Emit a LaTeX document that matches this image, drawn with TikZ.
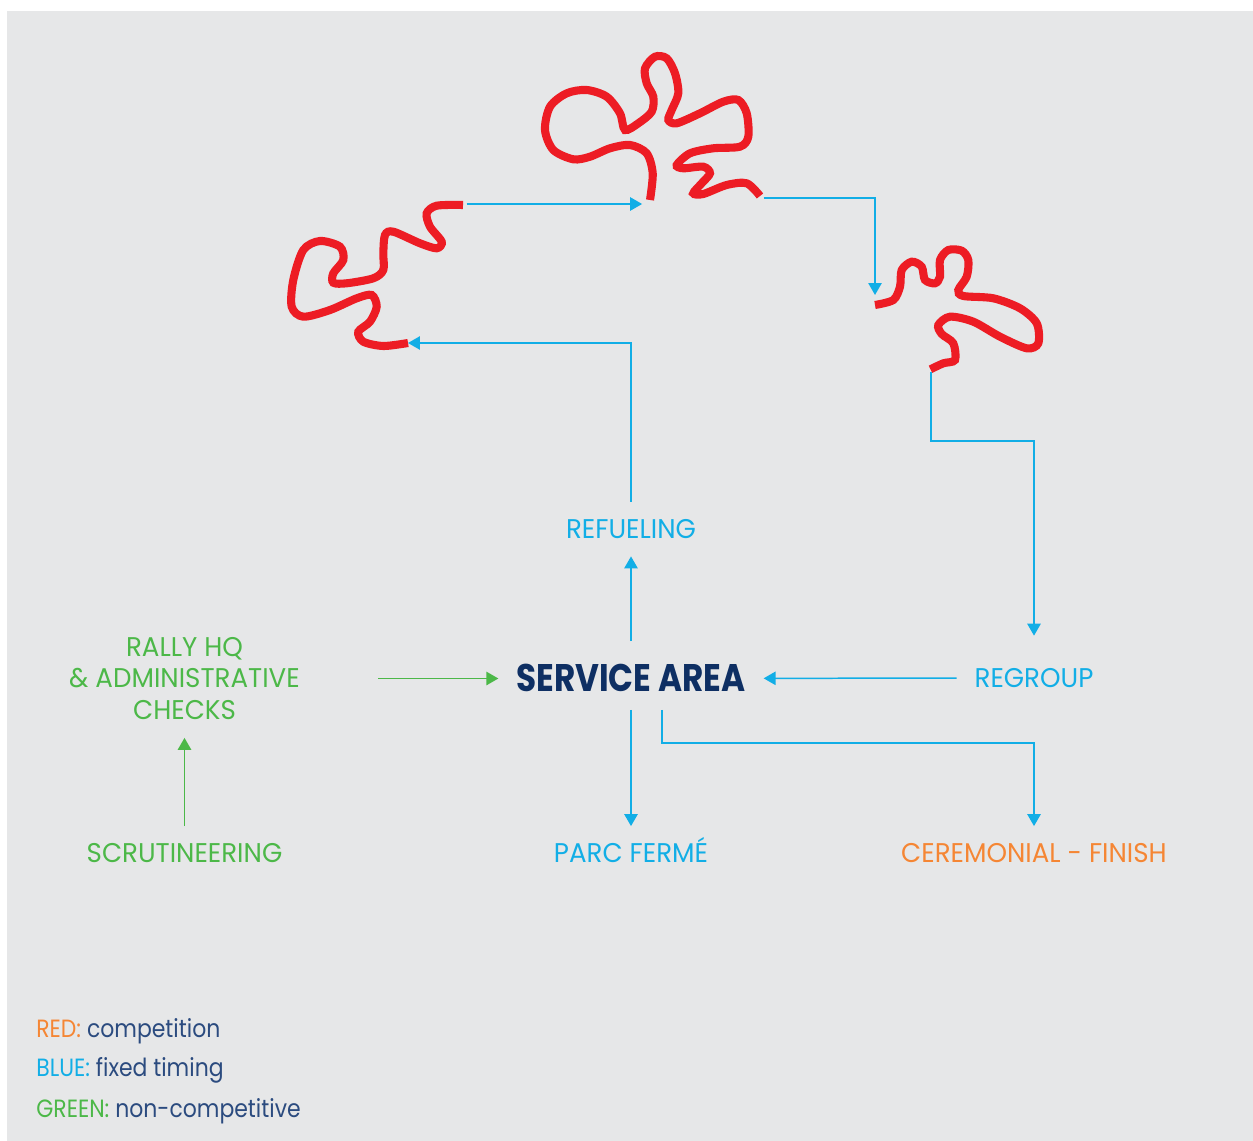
\documentclass[tikz,border=0pt]{standalone}
\usepackage{fontspec}
\setmainfont{Poppins}[FakeStretch=0.965]
\newfontfamily\hubfont{Poppins}[FakeStretch=0.85]
\newfontfamily\leyfont{Poppins}[FakeStretch=0.88]
\usetikzlibrary{arrows.meta, calc}
\definecolor{fondo}{HTML}{E6E7E8}
\definecolor{celeste}{HTML}{12AEE6}
\definecolor{verdoso}{HTML}{4CB848}
\definecolor{naranja}{HTML}{F58634}
\definecolor{rojo}{HTML}{ED1C24}
\definecolor{marino}{HTML}{0E2F63}
\definecolor{leyenda}{HTML}{2B4B7F}
\tikzset{>={Triangle[length=6.8pt,width=7.6pt]}}
\tikzset{
	rotulo/.style={inner sep=10pt, font=\fontsize{15.4}{18.1}\selectfont},
	rotulouno/.style={rotulo, text height=10.8pt, text depth=0pt},
	flujo/.style={celeste, line width=0.85pt, ->},
	flujoverde/.style={verdoso, line width=0.85pt, ->},
	tramo/.style={rojo, line width=4.6pt},
	leyendita/.style={anchor=base west, inner sep=0pt, text=leyenda, font=\leyfont\fontsize{14.2}{16}\selectfont}
}

\begin{document}
\begin{tikzpicture}[x=0.02cm, y=-0.02cm]

			\useasboundingbox (0,0) rectangle (1253,1141);
			\fill[fondo] (7,11) rectangle (1253,1141);

			% tramos de competicion
			\draw[tramo] plot[smooth] coordinates {(463,205) (436.7,205.7) (426.7,213.3) (430,226.7) (441.7,241.7) (436.7,248.3) (420,243.3) (393.3,231.7) (385,235) (383.3,253.3) (383.3,270) (373.3,278.3) (346.7,283.3) (333.3,282.7) (333.3,273.3) (343.3,260) (340,246.7) (320,241) (303.3,250) (293.3,280) (291.7,306.7) (303.3,316.7) (330,310) (356.7,298.3) (371.7,295) (376.7,306.7) (370,321.7) (358.3,331.7) (363.3,341.7) (383.3,346) (408,343)};
			\draw[tramo] plot[smooth] coordinates {(650,200) (652.7,173.3) (646.7,153.3) (630,145) (610,148.3) (590,156.7) (573.3,159.3) (553.3,150) (545,130) (550,106.7) (566.7,93.3) (586.7,90) (606.7,96.7) (620,113.3) (625,130) (638.3,123.3) (651.7,111.7) (653.3,96.7) (646.7,83.3) (645,68.3) (655,56.7) (666.7,58.3) (675,73.3) (678.3,93.3) (671.7,110) (668.3,120) (676.7,123.3) (700,113.3) (723.3,101.7) (738.3,100) (746.7,113.3) (748.3,136.7) (740,146.7) (713.3,148.3) (690,153.3) (676.7,165) (683.3,168.3) (703.3,166.7) (710,173.3) (701.7,183.3) (693.3,193.3) (703.3,194) (726.7,185) (746.7,183.3) (760,196)};
			\draw[tramo] plot[smooth] coordinates {(875,305) (893.3,300) (900,286.7) (901.7,270) (911.7,261.7) (921.7,266.7) (925,280) (935,283.3) (940,276.7) (940,260) (948.3,250) (961.7,250.7) (968.3,260) (966.7,276.7) (958.3,290) (963.3,296) (993.3,298.3) (1020,308.3) (1036.7,323.3) (1038.3,343.3) (1026.7,348.3) (1000,336.7) (973.3,321.7) (950,316.7) (938.3,325) (941.7,334) (953.3,343.3) (955,360) (943.3,363.3) (930.5,369.3)};

			\coordinate (s1a) at (408,343);
			\coordinate (s1b) at (463,204);
			\coordinate (s2a) at (650,200);
			\coordinate (s2b) at (760,198);
			\coordinate (s3a) at (875,305);
			\coordinate (s3b) at (931,369);

			% etiquetas
			\node[rotulouno, text=marino, text height=15.3pt, font=\hubfont\bfseries\fontsize{21.9}{24}\selectfont] (servicio) at (631,678.5) {SERVICE AREA};
			\node[rotulouno, text=celeste] (refuel) at (631,529) {REFUELING};
			\node[rotulouno, text=celeste] (regroup) at (1034,678) {REGROUP};
			\node[rotulouno, text=celeste] (parc) at (631,853.5) {PARC FERMÉ};
			\node[rotulouno, text=naranja] (finish) at (1034,853.5) {CEREMONIAL - FINISH};
			\node[rotulouno, text=verdoso] (scrut) at (184.5,853.5) {SCRUTINEERING};
			\node[rotulo, text=verdoso, align=center] (hq) at (184.5,678.5) {RALLY HQ\\ \& ADMINISTRATIVE\\ CHECKS};

			% conexiones
			\draw[flujo] (refuel) |- (s1a);
			\draw[flujo, shorten <=2pt, shorten >=4.5pt] (s1b) -- (s1b -| s2a);
			\draw[flujo, shorten <=2pt, shorten >=5.7pt] (s2b) -| (s3a);
			\draw[flujo, shorten <=1.5pt, shorten >=8.5pt] (s3b) -- ++(0,72) -| (regroup);
			\draw[flujo] (regroup) -- (servicio);
			\draw[flujo, shorten <=3.4pt] (servicio) -- (refuel);
			\draw[flujo] (servicio) -- (parc);
			\draw[flujo] ([xshift=17.6pt]servicio.south) -- ++(0,33) -| (finish);
			\draw[flujoverde] (scrut) -- (hq);
			\draw[flujoverde, shorten <=34.6pt] (hq) -- (servicio);

			% leyenda
			\node[leyendita] (leyrojo) at (36,1037) {\textcolor{naranja}{RED:} competition};
			\node[leyendita] (leyazul) at (36,1076) {\textcolor{celeste}{BLUE:} fixed timing};
			\node[leyendita] (leyverde) at (36,1117) {\textcolor{verdoso}{GREEN:} non-competitive};

\end{tikzpicture}
\end{document}
